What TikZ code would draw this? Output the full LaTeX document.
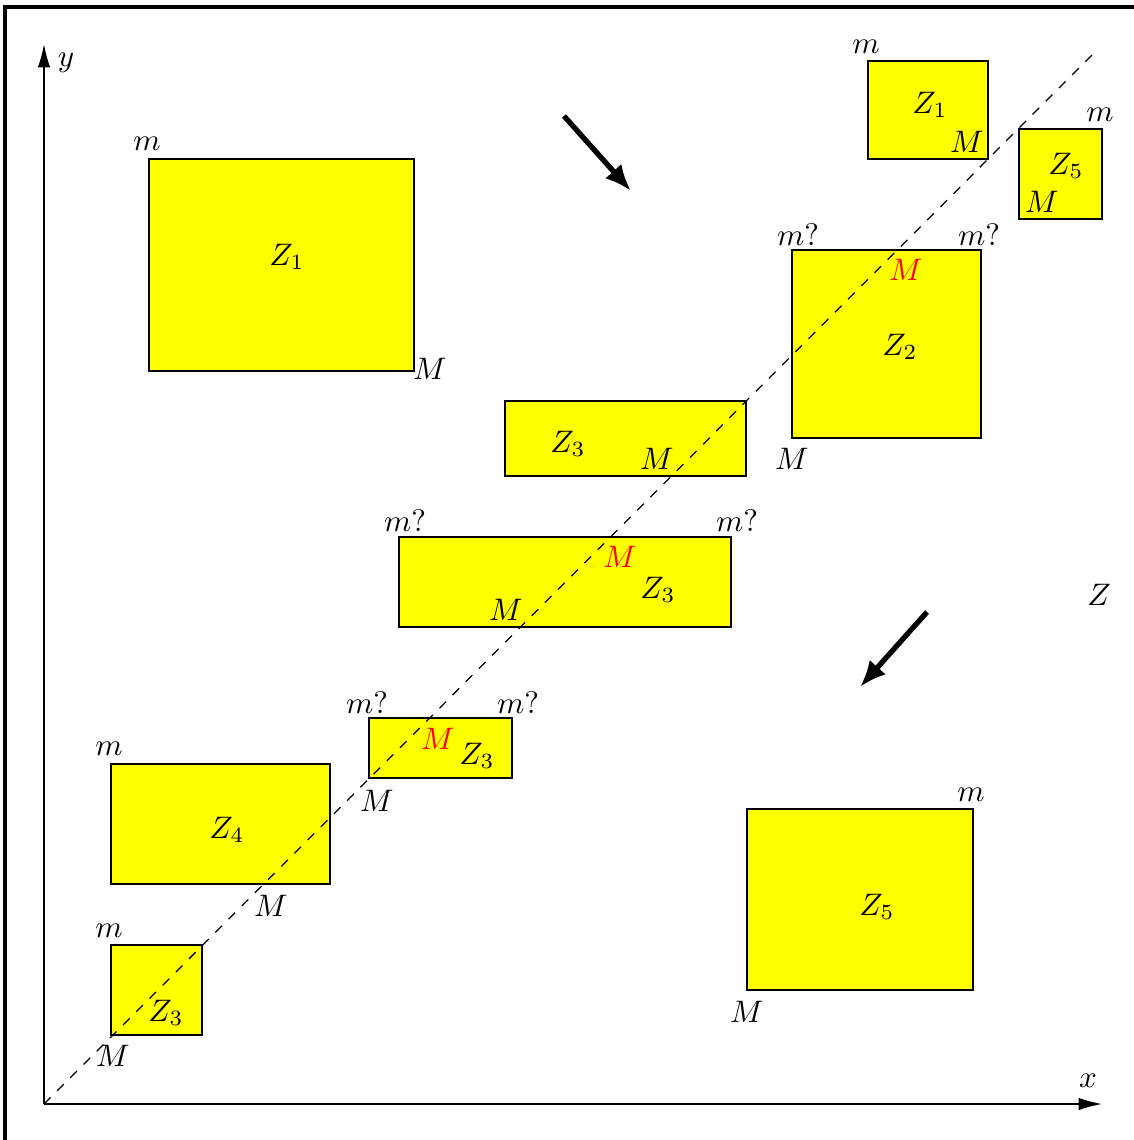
\documentclass[tikz,border=0pt]{standalone}
\usetikzlibrary{arrows.meta}
\definecolor{zonefill}{RGB}{255,255,0}
\begin{document}
\begin{tikzpicture}[x=0.0113cm,y=-0.0113cm,
  zone/.style={draw=black,fill=zonefill,line width=0.4pt},
  lab/.style={inner sep=0pt},
  hit/.style={lab,text=red},
  axis/.style={line width=0.45pt,-{Latex[length=7.5pt,width=4pt]}},
  flow/.style={line width=1.7pt,-{Latex[length=8.5pt,width=7pt]}},
  diag/.style={dashed,line width=0.4pt}]
\useasboundingbox (0,0) rectangle (1133,1140);
% outer frame
\draw[line width=1.1pt] (5,7) rectangle (1160,1170);

% zones
\draw[zone] (149,159) rectangle (414,371);   % big Z1
\draw[zone] (868,61) rectangle (988,159);    % small Z1
\draw[zone] (1019,129) rectangle (1102,219); % small Z5
\draw[zone] (792,250) rectangle (981,438);   % Z2
\draw[zone] (505,401) rectangle (746,476);   % Z3 upper
\draw[zone] (399,537) rectangle (731,627);   % Z3 wide
\draw[zone] (369,718) rectangle (512,778);   % Z3 small
\draw[zone] (111,764) rectangle (330,884);   % Z4
\draw[zone] (111,945) rectangle (202,1035);  % Z3 lower
\draw[zone] (747,809) rectangle (973,990);   % big Z5

% axes and diagonal
\coordinate (O) at (44,1104);
\coordinate (ytip) at (44,44);
\coordinate (xtip) at (1102,1104);
\coordinate (dend) at (1092,55);
\draw[axis] (O) -- (ytip);
\draw[axis] (O) -- (xtip);
\draw[diag] (O) -- (dend);
\node[lab] (ylab) at (66,63) {$y$};
\node[lab] (xlab) at (1088,1081) {$x$};
\node[lab] (zlab) at (1099,595) {$Z$};

% direction arrows
\coordinate (f1s) at (564,116);
\coordinate (f1e) at (631,191);
\coordinate (f2s) at (927,612);
\coordinate (f2e) at (860,687);
\draw[flow] (f1s) -- (f1e);
\draw[flow] (f2s) -- (f2e);

% big Z1
\node[lab] (z1a) at (287,257) {$Z_1$};
\node[lab] (z1am) at (147,144) {$m$};
\node[lab] (z1aM) at (430,369) {$M$};
% small Z1
\node[lab] (z1b) at (930,105) {$Z_1$};
\node[lab] (z1bm) at (866,47) {$m$};
\node[lab] (z1bM) at (967,142) {$M$};
% small Z5
\node[lab] (z5b) at (1066,166) {$Z_5$};
\node[lab] (z5bm) at (1100,115) {$m$};
\node[lab] (z5bM) at (1042,202) {$M$};
% Z2
\node[lab] (z2) at (900,347) {$Z_2$};
\node[lab] (z2m1) at (798,235) {$m?$};
\node[lab] (z2m2) at (979,235) {$m?$};
\node[hit] (z2r) at (906,270) {$M$};
\node[lab] (z2M) at (792,459) {$M$};
% Z3 upper
\node[lab] (z3a) at (568,444) {$Z_3$};
\node[lab] (z3aM) at (657,459) {$M$};
% Z3 wide
\node[lab] (z3b) at (658,590) {$Z_3$};
\node[lab] (z3bm1) at (405,521) {$m?$};
\node[lab] (z3bm2) at (737,521) {$m?$};
\node[hit] (z3br) at (620,557) {$M$};
\node[lab] (z3bM) at (506,610) {$M$};
% Z3 small
\node[lab] (z3c) at (477,756) {$Z_3$};
\node[lab] (z3cm1) at (367,703) {$m?$};
\node[lab] (z3cm2) at (518,703) {$m?$};
\node[hit] (z3cr) at (438,739) {$M$};
\node[lab] (z3cM) at (377,801) {$M$};
% Z4
\node[lab] (z4) at (227,830) {$Z_4$};
\node[lab] (z4m) at (109,749) {$m$};
\node[lab] (z4M) at (271,906) {$M$};
% Z3 lower
\node[lab] (z3d) at (166,1013) {$Z_3$};
\node[lab] (z3dm) at (109,931) {$m$};
\node[lab] (z3dM) at (113,1056) {$M$};
% big Z5
\node[lab] (z5a) at (877,907) {$Z_5$};
\node[lab] (z5am) at (971,795) {$m$};
\node[lab] (z5aM) at (747,1012) {$M$};
\end{tikzpicture}
\end{document}
